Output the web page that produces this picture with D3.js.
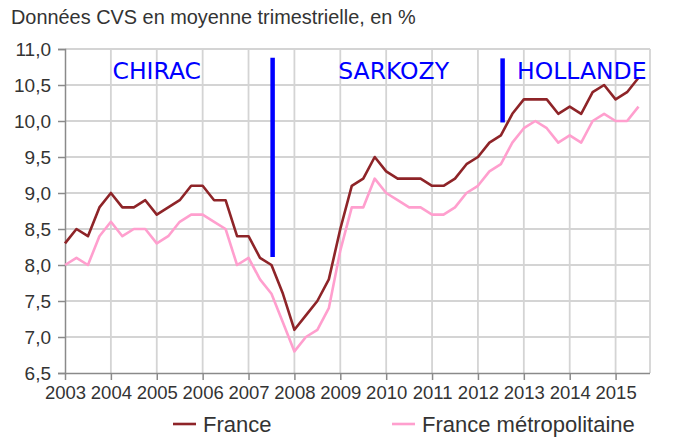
<!DOCTYPE html>
<html>
<head>
<meta charset="utf-8">
<script src="https://cdn.jsdelivr.net/npm/d3@7"></script>
<style>
  html, body { margin: 0; padding: 0; background: #fff; }
  svg { display: block; }
</style>
</head>
<body>
<svg id="chart" width="675" height="437"></svg>
<script>
// ---- Data ----
const years = ["2003","2004","2005","2006","2007","2008","2009","2010","2011","2012","2013","2014","2015"];
const yTicks = [6.5, 7.0, 7.5, 8.0, 8.5, 9.0, 9.5, 10.0, 10.5, 11.0];
const france = [
  8.3, 8.5, 8.4, 8.8,
  9.0, 8.8, 8.8, 8.9,
  8.7, 8.8, 8.9, 9.1,
  9.1, 8.9, 8.9, 8.4,
  8.4, 8.1, 8.0, 7.6,
  7.1, 7.3, 7.5, 7.8,
  8.5, 9.1, 9.2, 9.5,
  9.3, 9.2, 9.2, 9.2,
  9.1, 9.1, 9.2, 9.4,
  9.5, 9.7, 9.8, 10.1,
  10.3, 10.3, 10.3, 10.1,
  10.2, 10.1, 10.4, 10.5,
  10.3, 10.4, 10.6
];
const metro = [
  8.0, 8.1, 8.0, 8.4,
  8.6, 8.4, 8.5, 8.5,
  8.3, 8.4, 8.6, 8.7,
  8.7, 8.6, 8.5, 8.0,
  8.1, 7.8, 7.6, 7.2,
  6.8, 7.0, 7.1, 7.4,
  8.2, 8.8, 8.8, 9.2,
  9.0, 8.9, 8.8, 8.8,
  8.7, 8.7, 8.8, 9.0,
  9.1, 9.3, 9.4, 9.7,
  9.9, 10.0, 9.9, 9.7,
  9.8, 9.7, 10.0, 10.1,
  10.0, 10.0, 10.2
];
// presidents: label and its position in quarter index; vertical markers (election dates)
const presidents = ["CHIRAC", "SARKOZY", "HOLLANDE"];
const presidentPos = [8.0, 28.65, 45.05];
const markerPos = [18.1, 38.15];
const markerTop = [10.88, 10.87];
const markerBottom = [8.11, 9.98];

// ---- Layout ----
const svg = d3.select("#chart");
const mLeft = 65, mRight = 650, mTop = 49, mBottom = 373;
const nQuarters = 51;

const x = d3.scaleLinear().domain([0, nQuarters]).range([mLeft, mRight]);
const y = d3.scaleLinear().domain([6.5, 11.0]).range([mBottom, mTop]);

const gridColor = "#d4d4d4";
const axisColor = "#8a8a8a";
const textColor = "#333333";
const font = "'Liberation Sans', Arial, sans-serif";

// title
svg.append("text")
  .attr("x", 11).attr("y", 24)
  .attr("font-family", font).attr("font-size", 19.9)
  .attr("fill", textColor)
  .text("Données CVS en moyenne trimestrielle, en %");

// horizontal gridlines
svg.append("g").selectAll("line")
  .data(yTicks.filter(d => d > 6.5))
  .join("line")
  .attr("x1", mLeft).attr("x2", mRight)
  .attr("y1", d => y(d)).attr("y2", d => y(d))
  .attr("stroke", gridColor).attr("stroke-width", 1.8);

// vertical gridlines (years + right edge)
const yearIdx = years.map((d, i) => i * 4);
svg.append("g").selectAll("line")
  .data(yearIdx.slice(1).concat([nQuarters]))
  .join("line")
  .attr("x1", d => x(d)).attr("x2", d => x(d))
  .attr("y1", mTop).attr("y2", mBottom)
  .attr("stroke", gridColor).attr("stroke-width", 1.8);

// Y axis
const yAxis = d3.axisLeft(y)
  .tickValues(yTicks)
  .tickSize(7)
  .tickPadding(7)
  .tickFormat(d => d3.format(".1f")(d).replace(".", ","));
const gy = svg.append("g").attr("transform", `translate(${mLeft},0)`).call(yAxis);
gy.select(".domain").attr("stroke", axisColor).attr("stroke-width", 1.5);
gy.selectAll(".tick line").attr("stroke", axisColor).attr("stroke-width", 1.5);
gy.selectAll(".tick text")
  .attr("font-family", font).attr("font-size", 19).attr("fill", textColor)
  .attr("dy", "0.36em");

// X axis
const xAxis = d3.axisBottom(x)
  .tickValues(yearIdx)
  .tickSize(7)
  .tickPadding(6)
  .tickFormat((d, i) => years[i]);
const gx = svg.append("g").attr("transform", `translate(0,${mBottom})`).call(xAxis);
gx.select(".domain").attr("stroke", axisColor).attr("stroke-width", 1.5).attr("d", `M${mLeft},0.5H${mRight}`);
gx.selectAll(".tick line").attr("stroke", axisColor).attr("stroke-width", 1.5);
gx.selectAll(".tick text")
  .attr("font-family", font).attr("font-size", 18.5).attr("fill", textColor);

// lines
const line = d3.line().x((d, i) => x(i)).y(d => y(d));
svg.append("path").datum(metro)
  .attr("d", line).attr("fill", "none")
  .attr("stroke", "#ff9fce").attr("stroke-width", 2.6)
  .attr("stroke-linejoin", "round");
svg.append("path").datum(france)
  .attr("d", line).attr("fill", "none")
  .attr("stroke", "#8e2428").attr("stroke-width", 2.6)
  .attr("stroke-linejoin", "round");

// election markers
svg.append("g").selectAll("line")
  .data(markerPos)
  .join("line")
  .attr("x1", d => x(d)).attr("x2", d => x(d))
  .attr("y1", (d, i) => y(markerTop[i])).attr("y2", (d, i) => y(markerBottom[i]))
  .attr("stroke", "#0000ff").attr("stroke-width", 4.5);

// president labels
svg.append("g").selectAll("text")
  .data(presidents)
  .join("text")
  .attr("x", (d, i) => x(presidentPos[i]))
  .attr("y", 79)
  .attr("text-anchor", "middle")
  .attr("font-family", "'DejaVu Sans', sans-serif")
  .attr("font-size", 23.5)
  .attr("fill", "#0000ff")
  .text(d => d);

// legend
const legend = [
  {name: "France", color: "#8e2428", x0: 173},
  {name: "France métropolitaine", color: "#ff9fce", x0: 392}
];
const lg = svg.append("g").selectAll("g").data(legend).join("g");
lg.append("line")
  .attr("x1", d => d.x0).attr("x2", d => d.x0 + 23)
  .attr("y1", 424).attr("y2", 424)
  .attr("stroke", d => d.color).attr("stroke-width", 2.6);
lg.append("text")
  .attr("x", d => d.x0 + 30).attr("y", 431.5)
  .attr("font-family", font).attr("font-size", 22)
  .attr("fill", textColor)
  .text(d => d.name);
</script>
</body>
</html>
